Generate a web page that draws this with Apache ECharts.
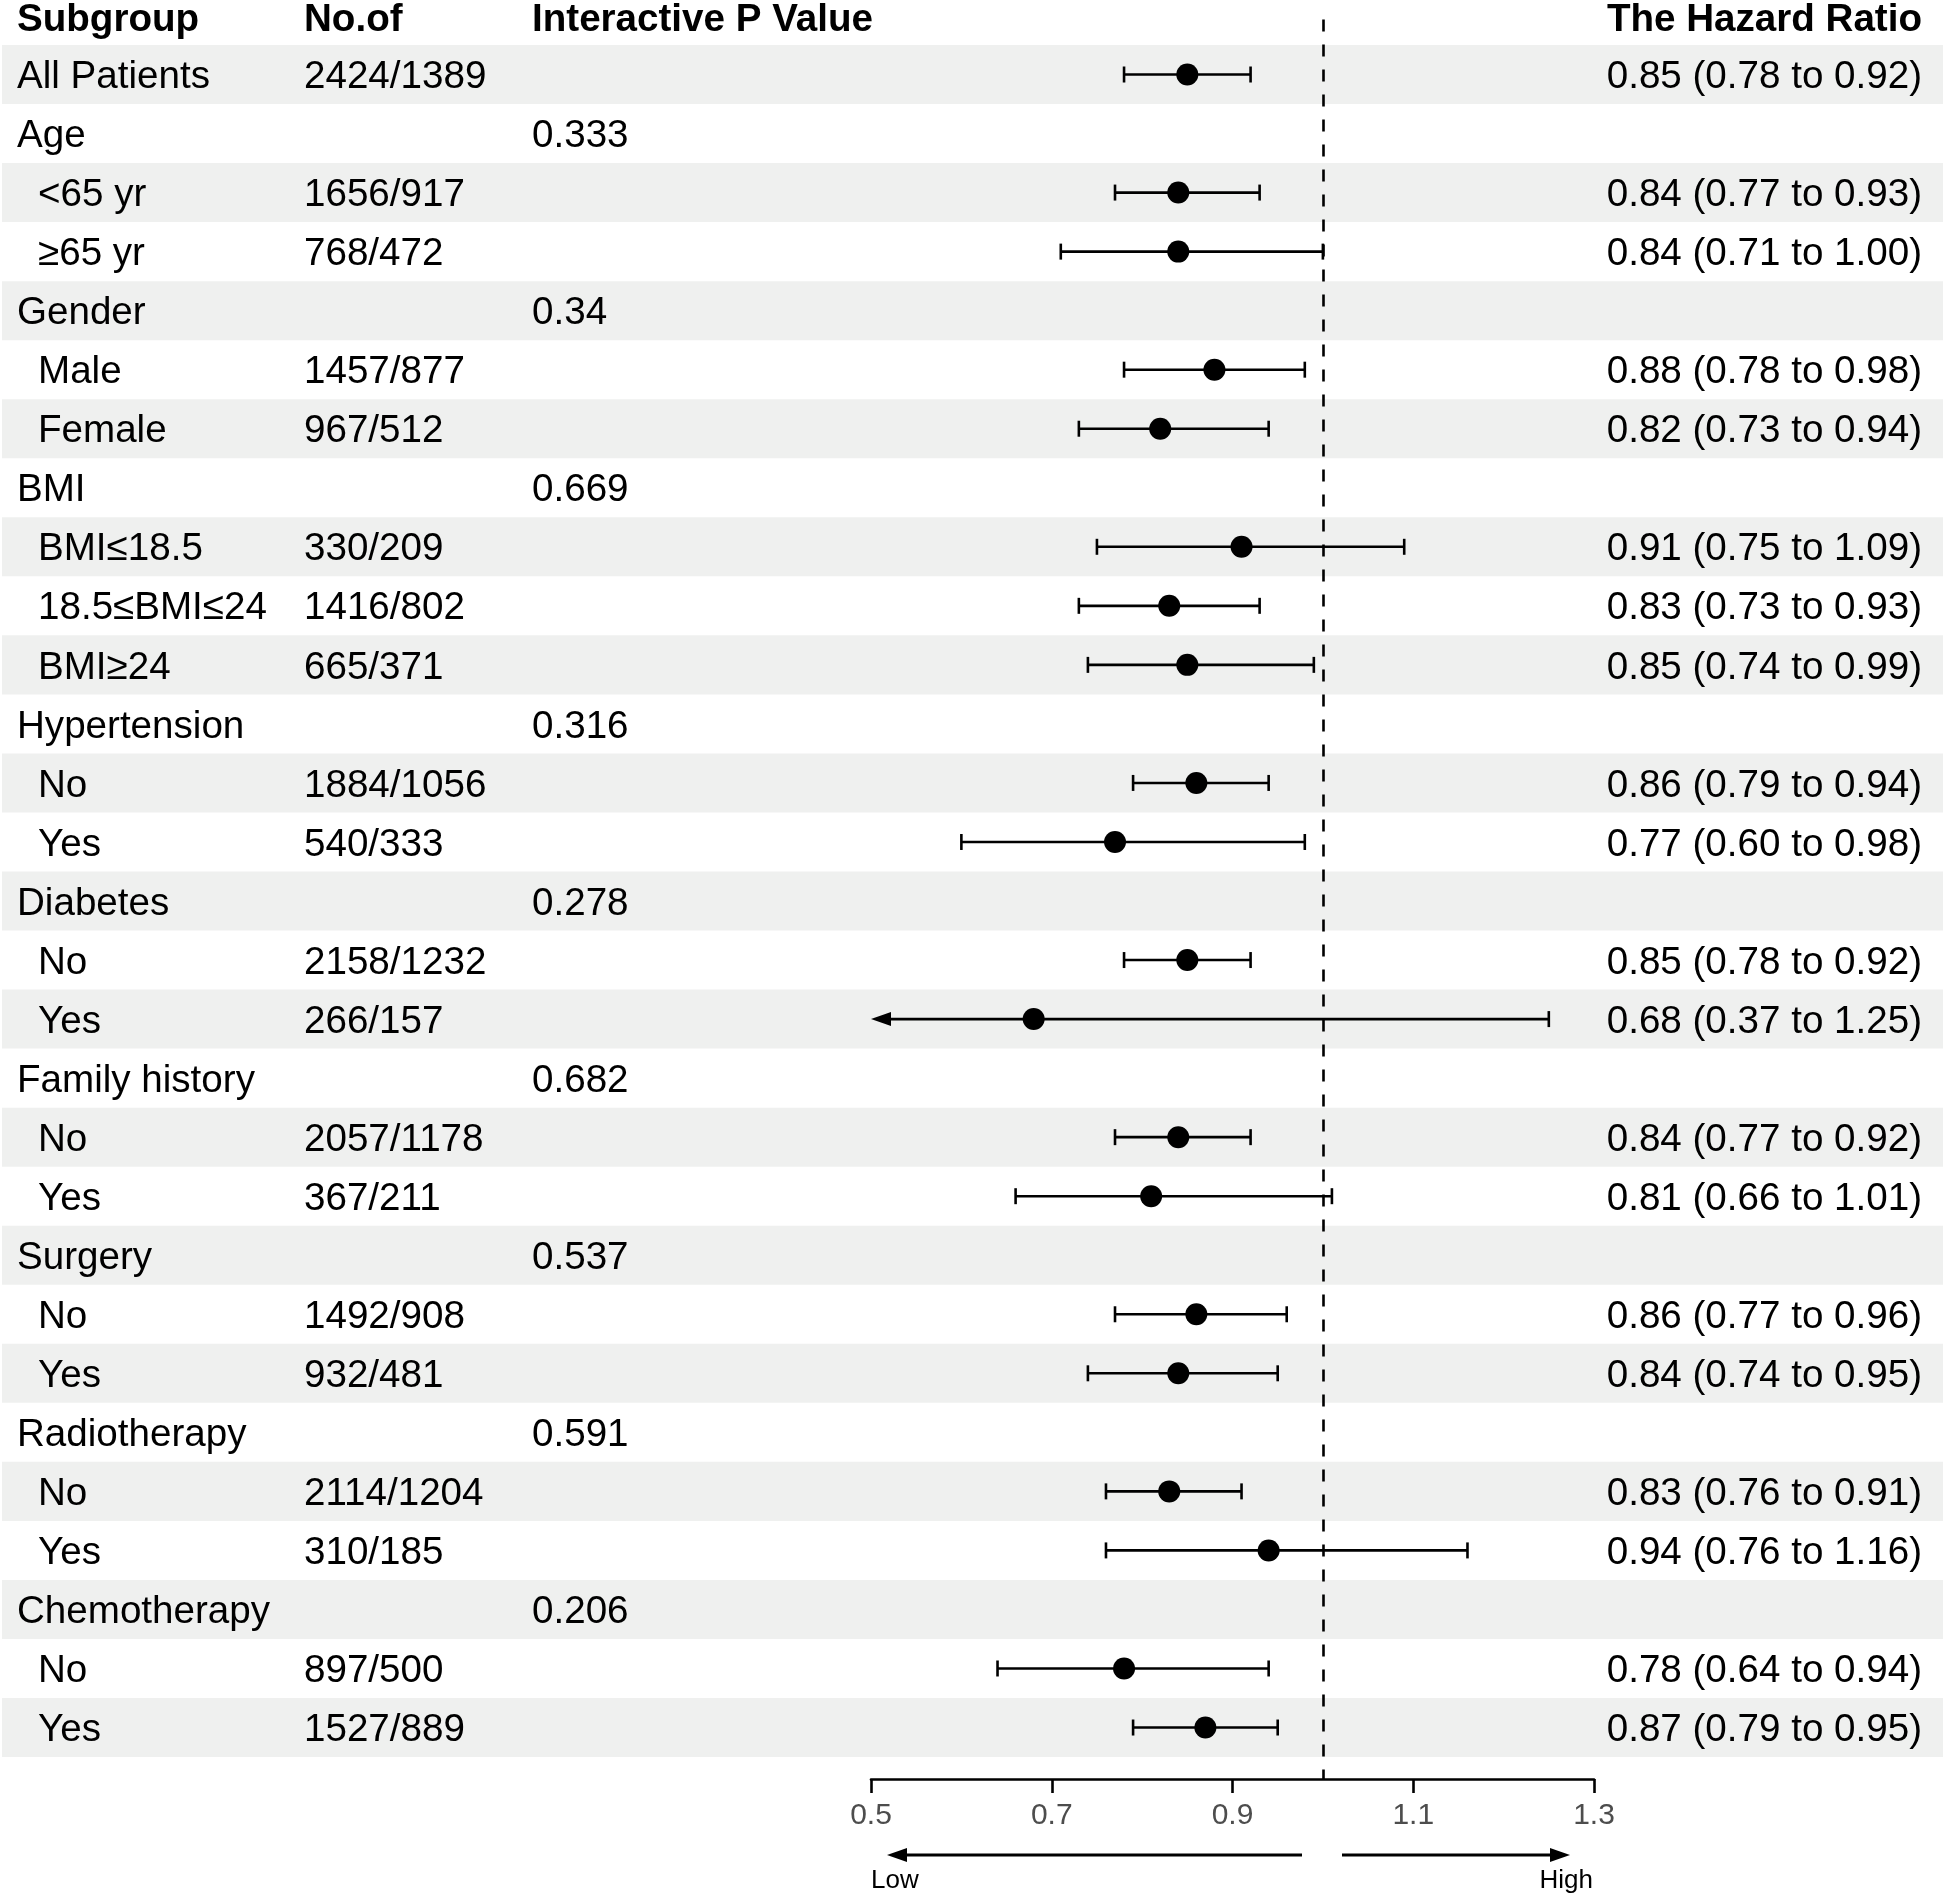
<!DOCTYPE html>
<html>
<head>
<meta charset="utf-8">
<script src="https://cdn.jsdelivr.net/npm/echarts@6/dist/echarts.min.js"></script>
<style>
html,body{margin:0;padding:0;background:#fff;}
#chart{width:1943px;height:1898px;}
</style>
</head>
<body>
<div id="chart"></div>
<script>
const labels = ['All Patients','Age','<65 yr','≥65 yr','Gender','Male','Female','BMI','BMI≤18.5','18.5≤BMI≤24','BMI≥24','Hypertension','No','Yes','Diabetes','No','Yes','Family history','No','Yes','Surgery','No','Yes','Radiotherapy','No','Yes','Chemotherapy','No','Yes'];
const indent = [0,0,1,1,0,1,1,0,1,1,1,0,1,1,0,1,1,0,1,1,0,1,1,0,1,1,0,1,1];
const counts = ['2424/1389','','1656/917','768/472','','1457/877','967/512','','330/209','1416/802','665/371','','1884/1056','540/333','','2158/1232','266/157','','2057/1178','367/211','','1492/908','932/481','','2114/1204','310/185','','897/500','1527/889'];
const pvals = ['','0.333','','','0.34','','','0.669','','','','0.316','','','0.278','','','0.682','','','0.537','','','0.591','','','0.206','',''];
const hr    = [0.85,null,0.84,0.84,null,0.88,0.82,null,0.91,0.83,0.85,null,0.86,0.77,null,0.85,0.68,null,0.84,0.81,null,0.86,0.84,null,0.83,0.94,null,0.78,0.87];
const lower = [0.78,null,0.77,0.71,null,0.78,0.73,null,0.75,0.73,0.74,null,0.79,0.60,null,0.78,0.37,null,0.77,0.66,null,0.77,0.74,null,0.76,0.76,null,0.64,0.79];
const upper = [0.92,null,0.93,1.00,null,0.98,0.94,null,1.09,0.93,0.99,null,0.94,0.98,null,0.92,1.25,null,0.92,1.01,null,0.96,0.95,null,0.91,1.16,null,0.94,0.95];
const headers = ['Subgroup','No.of','Interactive P Value','The Hazard Ratio'];
const xTicks = [0.5, 0.7, 0.9, 1.1, 1.3];
const refValue = 1.0;

const FONT = '"Liberation Sans", Arial, sans-serif';
const FS = 38.6;
const XMIN = 0.5, XMAX = 1.3;

const rowData = labels.map((l, i) => [XMIN, i]);
const barData = [];
const dotData = [];
hr.forEach((v, i) => {
  if (v !== null) {
    barData.push([lower[i], upper[i], i]);
    dotData.push([v, i]);
  }
});

function hrText(i) {
  if (hr[i] === null) return '';
  return hr[i].toFixed(2) + ' (' + lower[i].toFixed(2) + ' to ' + upper[i].toFixed(2) + ')';
}

function renderRow(params, api) {
  const i = params.dataIndex;
  const y = api.coord([XMIN, i])[1];
  const h = api.size([0, 1])[1];
  const ch = [];
  if (i % 2 === 0) {
    ch.push({type: 'rect', shape: {x: 2, y: y - h / 2, width: 1941, height: h}, style: {fill: '#eff0ef'}, z2: 0});
  }
  const ts = (text, x, align) => ({
    type: 'text', z2: 5,
    style: {text: text, x: x, y: y + 3, font: FS + 'px ' + FONT, fill: '#000', align: align, verticalAlign: 'middle'}
  });
  ch.push(ts(labels[i], indent[i] ? 38 : 17, 'left'));
  if (counts[i]) ch.push(ts(counts[i], 304, 'left'));
  if (pvals[i]) ch.push(ts(pvals[i], 532, 'left'));
  const t = hrText(i);
  if (t) ch.push(ts(t, 1922, 'right'));
  return {type: 'group', children: ch};
}

function renderBar(params, api) {
  const lo = api.value(0), hi = api.value(1), row = api.value(2);
  const truncL = lo < XMIN;
  const p1 = api.coord([truncL ? XMIN : lo, row]);
  const p2 = api.coord([hi, row]);
  const st = {stroke: '#000', lineWidth: 2.6};
  const ch = [{type: 'line', shape: {x1: p1[0] + (truncL ? 14 : 0), y1: p1[1], x2: p2[0], y2: p2[1]}, style: st}];
  const cap = 8;
  if (truncL) {
    ch.push({type: 'polygon', shape: {points: [[p1[0], p1[1]], [p1[0] + 20, p1[1] - 7], [p1[0] + 20, p1[1] + 7]]}, style: {fill: '#000'}});
  } else {
    ch.push({type: 'line', shape: {x1: p1[0], y1: p1[1] - cap, x2: p1[0], y2: p1[1] + cap}, style: st});
  }
  ch.push({type: 'line', shape: {x1: p2[0], y1: p2[1] - cap, x2: p2[0], y2: p2[1] + cap}, style: st});
  return {type: 'group', children: ch};
}

const HF = 'bold ' + FS + 'px ' + FONT;
const chart = echarts.init(document.getElementById('chart'), null, {renderer: 'canvas'});
const option = {
  backgroundColor: '#fff',
  animation: false,
  grid: {left: 871, right: 349, top: 0, bottom: 119, containLabel: false},
  xAxis: {
    type: 'value', min: XMIN, max: XMAX, interval: 0.2, position: 'bottom',
    axisLine: {show: true, onZero: false, lineStyle: {color: '#000', width: 2.6}},
    axisTick: {show: true, length: 14, lineStyle: {color: '#000', width: 2.6}},
    axisLabel: {color: '#4d4d4d', fontSize: 30, fontFamily: FONT, margin: 22,
      formatter: v => xTicks.some(t => Math.abs(t - v) < 1e-6) ? v.toFixed(1) : ''},
    splitLine: {show: false}
  },
  yAxis: {type: 'value', inverse: true, min: -1.262, max: 28.872, show: false},
  graphic: [
    {type: 'text', x: 17, y: 20, style: {text: headers[0], font: HF, fill: '#000', align: 'left', verticalAlign: 'middle'}},
    {type: 'text', x: 304, y: 20, style: {text: headers[1], font: HF, fill: '#000', align: 'left', verticalAlign: 'middle'}},
    {type: 'text', x: 532, y: 20, style: {text: headers[2], font: HF, fill: '#000', align: 'left', verticalAlign: 'middle'}},
    {type: 'text', x: 1922, y: 20, style: {text: headers[3], font: HF, fill: '#000', align: 'right', verticalAlign: 'middle'}},
    {type: 'line', shape: {x1: 1302, y1: 1855, x2: 900, y2: 1855}, style: {stroke: '#000', lineWidth: 3}},
    {type: 'polygon', shape: {points: [[887, 1855], [907, 1848], [907, 1862]]}, style: {fill: '#000'}},
    {type: 'line', shape: {x1: 1342, y1: 1855, x2: 1556, y2: 1855}, style: {stroke: '#000', lineWidth: 3}},
    {type: 'polygon', shape: {points: [[1570, 1855], [1550, 1848], [1550, 1862]]}, style: {fill: '#000'}},
    {type: 'text', x: 871, y: 1881, style: {text: 'Low', font: '26px ' + FONT, fill: '#000', align: 'left', verticalAlign: 'middle'}},
    {type: 'text', x: 1593, y: 1881, style: {text: 'High', font: '26px ' + FONT, fill: '#000', align: 'right', verticalAlign: 'middle'}}
  ],
  series: [
    {type: 'custom', coordinateSystem: 'cartesian2d', data: rowData, renderItem: renderRow, clip: false, z: 0, silent: true,
     encode: {x: 0, y: 1}},
    {type: 'custom', coordinateSystem: 'cartesian2d', data: barData, renderItem: renderBar, clip: false, z: 3, silent: true,
     encode: {x: [0, 1], y: 2}},
    {type: 'scatter', data: dotData, symbol: 'circle', symbolSize: 22, itemStyle: {color: '#000', opacity: 1}, z: 4, silent: true,
     markLine: {silent: true, symbol: ['none', 'none'], label: {show: false},
       lineStyle: {color: '#000', width: 2.6, type: [12, 13], opacity: 1},
       data: [[{coord: [refValue, -0.93]}, {coord: [refValue, 28.872]}]]}}
  ]
};
chart.setOption(option);
</script>
</body>
</html>
